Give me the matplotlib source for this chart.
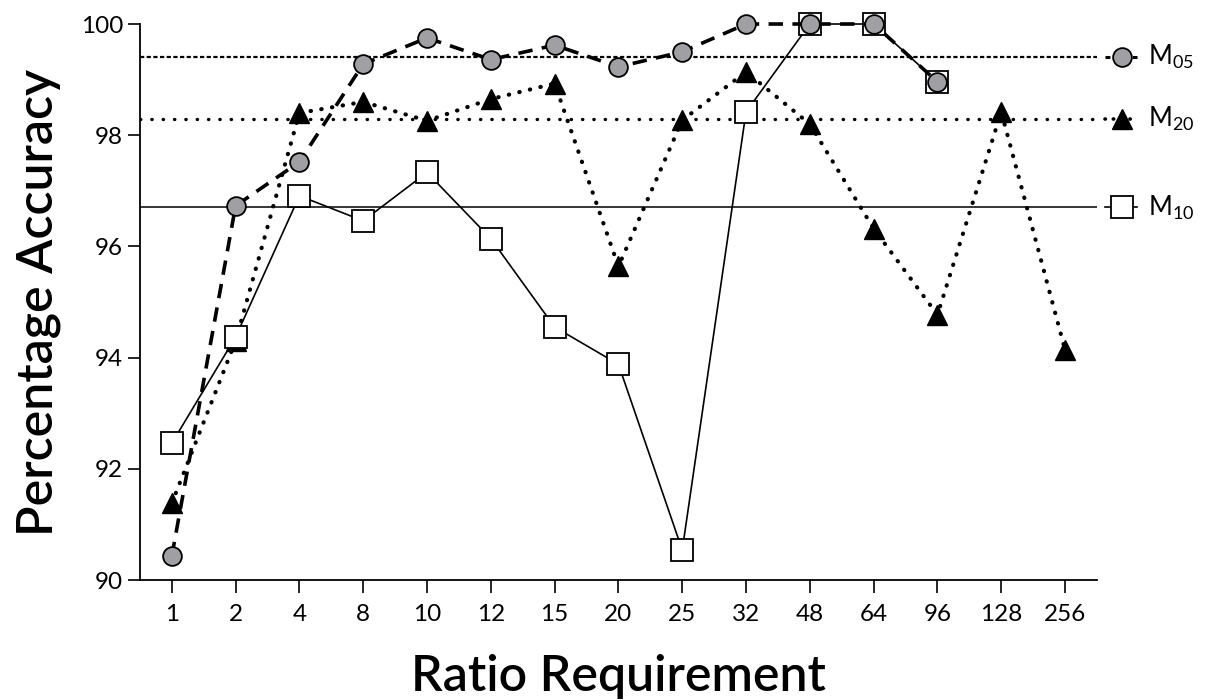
import matplotlib
matplotlib.use("Agg")
import matplotlib.pyplot as plt
import matplotlib.transforms as mtransforms

plt.rcParams['font.family'] = ['Lato', 'DejaVu Sans']
plt.rcParams['mathtext.fontset'] = 'custom'
plt.rcParams['mathtext.rm'] = 'Lato'
plt.rcParams['mathtext.it'] = 'Lato'

# data
ratios = ['1', '2', '4', '8', '10', '12', '15', '20', '25', '32', '48', '64', '96', '128', '256']
m05 = [90.43, 96.73, 97.52, 99.28, 99.75, 99.36, 99.62, 99.23, 99.50, 100.0, 100.0, 100.0, 98.96]
m20 = [91.38, 94.3, 98.40, 98.60, 98.26, 98.65, 98.93, 95.64, 98.27, 99.14, 98.20, 96.32, 94.77, 98.42, 94.14]
m10 = [92.46, 94.37, 96.91, 96.46, 97.33, 96.14, 94.55, 93.88, 90.54, 98.42, 100.0, 100.0, 98.96]
means = {'05': 99.4, '20': 98.3, '10': 96.7}

fig = plt.figure(figsize=(12.06, 7), dpi=100)
ax = fig.add_axes([0.116, 0.1714, 0.7936, 0.7943])

x_all = list(range(1, len(ratios) + 1))

dot_style = dict(ls=(0, (0.1, 2.5)), lw=3, dash_capstyle='round', color='black')
dash_style = dict(ls=(0, (4, 2.6)), lw=2.6, color='black')
solid_style = dict(ls='-', lw=1.2, color='black')

mk05 = dict(marker='o', ms=13.5, mfc='#a0a0a4', mec='black', mew=1.3)
mk20 = dict(marker='^', ms=14.5, mfc='black', mec='black')
mk10 = dict(marker='s', ms=15.5, mfc='white', mec='black', mew=1.3)

# series
ax.plot(x_all[:len(m20)], m20, zorder=3, clip_on=False, **dot_style, **mk20)
ax.plot(x_all[:len(m10)], m10, zorder=4, clip_on=False, **solid_style, **mk10)
ax.plot(x_all[:len(m05)], m05, zorder=5, clip_on=False, **dash_style, **mk05)

# mean lines
ax.axhline(means['05'], ls=(0, (1.9, 1.1)), lw=1.6, color='black', zorder=2)
ax.axhline(means['20'], ls=(0, (0.1, 3.3)), lw=2.4, dash_capstyle='round', color='black', zorder=2)
ax.axhline(means['10'], ls='-', lw=1.1, color='black', zorder=2)

# side labels (legend)
tr = mtransforms.blended_transform_factory(ax.transAxes, ax.transData)
handles = [
    ('05', dict(ls=(0, (1.6, 1.4)), lw=2.2, color='black'), mk05),
    ('20', dict(ls=(0, (0.1, 2.2)), lw=2.6, dash_capstyle='round', color='black'), mk20),
    ('10', dict(ls='-', lw=1.2, color='black'), mk10),
]
for key, lst, mk in handles:
    y = means[key]
    ax.plot([1.008, 1.042], [y, y], transform=tr, clip_on=False, zorder=6, **lst)
    ax.plot([1.026], [y], transform=tr, clip_on=False, ls='none', zorder=7, **mk)
    ax.text(1.053, y, 'M$_{' + key + '}$', transform=tr, va='center', ha='left', fontsize=18.5)

ax.set_xlim(0.5, 15.5)
ax.set_ylim(90, 100)
ax.set_xticks(x_all)
ax.set_xticklabels(ratios)
ax.set_yticks(range(90, 101, 2))
ax.tick_params(axis='both', labelsize=17.5, length=9, width=1.2, direction='out')
ax.tick_params(axis='x', pad=8)
ax.tick_params(axis='y', pad=3)

for side in ['top', 'right']:
    ax.spines[side].set_visible(False)
for side in ['left', 'bottom']:
    ax.spines[side].set_linewidth(1.3)

ax.set_xlabel('Ratio Requirement', fontsize=36, fontweight='semibold', labelpad=21)
ax.set_ylabel('Percentage Accuracy', fontsize=36, fontweight='semibold', labelpad=14)

fig.savefig('out.png', dpi=100)
